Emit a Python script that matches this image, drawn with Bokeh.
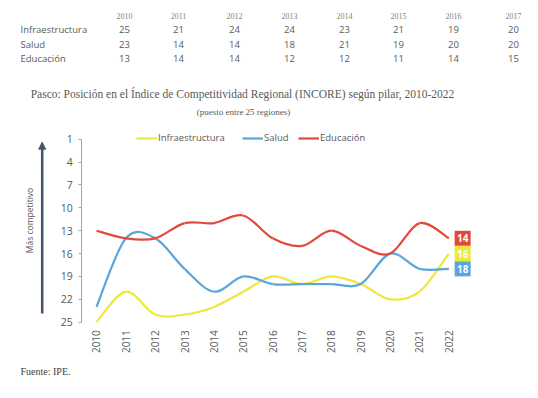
import math
from bokeh.plotting import figure
from bokeh.models import (Range1d, FixedTicker, Label, Arrow, NormalHead, Legend,
                          LegendItem, ColumnDataSource, LinearAxis)
from bokeh.core.properties import value
from bokeh.embed import file_html
from bokeh.resources import INLINE

# ---------------- data ----------------
years = [2010, 2011, 2012, 2013, 2014, 2015, 2016, 2017, 2018, 2019, 2020, 2021, 2022]
infra = [25, 21, 24, 24, 23, 21, 19, 20, 19, 20, 22, 21, 16]
salud = [23, 14, 14, 18, 21, 19, 20, 20, 20, 20, 16, 18, 18]
educ = [13, 14, 14, 12, 12, 11, 14, 15, 13, 15, 16, 12, 14]
series_names = ["Infraestructura", "Salud", "Educación"]
table_years = years[:8]
y_ticks = [1, 4, 7, 10, 13, 16, 19, 22, 25]

colors = {"Infraestructura": "#EDE83C", "Salud": "#58A6DA", "Educación": "#E2493B"}
series = {"Infraestructura": infra, "Salud": salud, "Educación": educ}

GRAY = "#595959"
SANS = "Open Sans"
SERIF = "Liberation Serif"

# the frame covers the whole canvas; the axes are placed at fixed locations
p = figure(width=538, height=398, output_backend="svg", toolbar_location=None,
           x_range=Range1d(2006.730, 2025.054), y_range=Range1d(35.007, -17.190),
           min_border=0, x_axis_location=None, y_axis_location=None)
p.outline_line_color = None
p.grid.visible = False

yax = LinearAxis(fixed_location=2009.5, bounds=(1, 25), ticker=FixedTicker(ticks=y_ticks))
yax.axis_line_color = "#A6A6A6"
yax.major_tick_line_color = "#A6A6A6"
yax.major_tick_in = 0
yax.major_tick_out = 3
yax.minor_tick_line_color = None
yax.major_label_text_font = SANS
yax.major_label_text_font_size = "10.5px"
yax.major_label_text_color = GRAY
yax.major_label_standoff = 6
p.add_layout(yax, "left")

xax = LinearAxis(fixed_location=25, bounds=(2010, 2022), ticker=FixedTicker(ticks=years))
xax.axis_line_color = None
xax.major_tick_line_color = None
xax.major_tick_out = 0
xax.major_tick_in = 0
xax.minor_tick_line_color = None
xax.major_label_orientation = math.pi / 2
xax.major_label_text_font = SANS
xax.major_label_text_font_size = "10px"
xax.major_label_text_color = GRAY
xax.major_label_standoff = 8
p.add_layout(xax, "below")


def smooth_segments(xs, ys, t=1.0 / 6.0):
    n = len(xs)
    out = dict(x0=[], y0=[], x1=[], y1=[], cx0=[], cy0=[], cx1=[], cy1=[])
    for i in range(n - 1):
        im1 = max(i - 1, 0)
        ip2 = min(i + 2, n - 1)
        out["x0"].append(xs[i]); out["y0"].append(ys[i])
        out["x1"].append(xs[i + 1]); out["y1"].append(ys[i + 1])
        out["cx0"].append(xs[i] + (xs[i + 1] - xs[im1]) * t)
        out["cy0"].append(ys[i] + (ys[i + 1] - ys[im1]) * t)
        out["cx1"].append(xs[i + 1] - (xs[ip2] - xs[i]) * t)
        out["cy1"].append(ys[i + 1] - (ys[ip2] - ys[i]) * t)
    return out


legend_x = [136, 242, 298]
for name, lx in zip(series_names, legend_x):
    src = ColumnDataSource(smooth_segments(years, series[name]))
    r = p.bezier(x0="x0", y0="y0", x1="x1", y1="y1", cx0="cx0", cy0="cy0",
                 cx1="cx1", cy1="cy1", source=src, line_color=colors[name],
                 line_width=2.2)
    lg = Legend(items=[LegendItem(label=name, renderers=[r])], location=(lx, 254),
                label_text_font=SANS, label_text_font_size="9.5px",
                label_text_color=GRAY, glyph_width=21, glyph_height=12,
                label_standoff=1, padding=0, margin=0, label_height=12,
                background_fill_alpha=0, border_line_alpha=0)
    p.add_layout(lg, "center")

# end-of-series value boxes
end_x = [years[-1] + 0.47] * 3
end_y = [series[n][-1] for n in series_names]
end_txt = [str(v) for v in end_y]
end_col = [colors[n] for n in series_names]
end_src = ColumnDataSource(dict(x=end_x, y=end_y, t=end_txt, c=end_col))
p.rect(x="x", y="y", width=16, height=15, width_units="screen",
       height_units="screen", fill_color="c", line_color=None, source=end_src)
p.text(x="x", y="y", text="t", text_align="center", text_baseline="middle",
       text_color="white", text_font=value(SANS), text_font_style="bold",
       text_font_size="10px", source=end_src)


# ---------- texts (screen units, canvas bottom-left origin) ----------
def lab(text, x, y, size, font=SANS, align="left", color=GRAY, angle=0.0, style="normal"):
    p.add_layout(Label(x=x, y=y, x_units="screen", y_units="screen", text=text,
                       text_font=font, text_font_size=size, text_color=color,
                       text_align=align, text_baseline="middle", angle=angle,
                       text_font_style=style))


col_x = [124, 178, 234, 289, 344, 398, 453, 513]
for cx, yr in zip(col_x, table_years):
    lab(str(yr), cx, 383, "8px", font=SERIF, align="center", color="#7F7F7F")
row_y = [369.5, 354.5, 340]
for name, ry in zip(series_names, row_y):
    lab(name, 20, ry, "9.5px")
    for i, cx in enumerate(col_x):
        lab(str(series[name][i]), cx, ry, "9.5px", align="center")

lab("Pasco: Posición en el Índice de Competitividad Regional (INCORE) según pilar, 2010-2022",
    242, 305, "11.5px", font=SERIF, align="center")
lab("(puesto entre 25 regiones)", 243, 286.5, "9px", font=SERIF, align="center")
lab("Más competitivo", 29, 178, "8.5px", align="center", angle=math.pi / 2)
lab("Fuente: IPE.", 20, 27, "10px", font=SERIF, color="#404040")

p.add_layout(Arrow(x_start=41.7, y_start=85, x_end=41.7, y_end=256.3,
                   start_units="screen", end_units="screen",
                   line_color="#44546A", line_width=2.5,
                   end=NormalHead(size=7, fill_color="#44546A", line_color="#44546A")))

open("out.html", "w").write(file_html(p, INLINE))
